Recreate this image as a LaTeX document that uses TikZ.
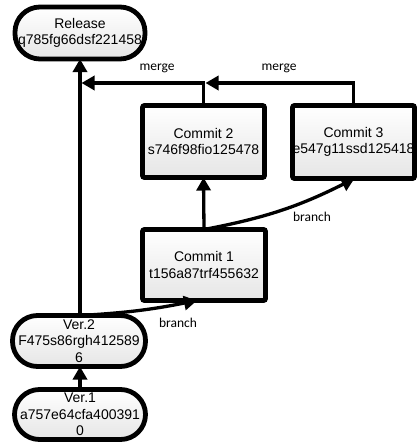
\documentclass[tikz,border=0pt]{standalone}
\usepackage{fontspec}
\setmainfont{Liberation Sans}
\newfontfamily\lblfont{Carlito}
\usetikzlibrary{arrows.meta,shadows}

\begin{document}
\begin{tikzpicture}[x=1pt,y=-1pt,
  every node/.style={inner sep=0pt, outer sep=0pt},
  card/.style={draw=black, line width=4.8pt, top color=white, bottom color=black!10,
    align=center, font=\fontsize{14}{16.5}\selectfont,
    drop shadow={shadow xshift=1.5pt, shadow yshift=-1.5pt, fill=black!35, opacity=0.5}},
  commitbox/.style={card, rounded corners=2pt, minimum width=122pt, minimum height=72pt},
  pill/.style={card, rounded corners=25pt, minimum width=131pt, minimum height=51pt},
  link/.style={line width=3.3pt, -{Triangle[length=13pt,width=14pt]}},
  tag/.style={font=\lblfont\fontsize{13.5}{15}\selectfont}
]
\useasboundingbox (0,0) rectangle (418,444);

% version nodes on the main line
\node[pill, minimum width=130pt, minimum height=52pt] (rel) at (80,33) {Release\\q785fg66dsf221458};
\node[pill, minimum width=133pt] (v2) at (79,341) {Ver.2\\F475s86rgh412589\\6};
\node[pill, minimum height=50pt] (v1) at (80,414.5) {Ver.1\\a757e64cfa400391\\0};

% commits on the side branches
\node[commitbox] (c2) at (203.5,141.5) {Commit 2\\s746f98fio125478};
\node[commitbox, minimum height=73pt] (c3) at (353.5,142) {Commit 3\\e547g11ssd125418};
\node[commitbox, minimum width=123pt, minimum height=71pt] (c1) at (204,265) {Commit 1\\t156a87trf455632};

% junctions where the merges meet
\coordinate (j1) at (81.5,83);
\coordinate (j2) at (205.5,83);

% main line
\draw[link] (v1.north -| rel.south) -- (v2.south -| rel.south);
\draw[link] (v2.north -| rel.south) -- (rel.south);

% branches
\draw[link] (v2.north -| rel.south) to[bend right=4] ([xshift=-7pt]c1.south);
\draw[link] (c1.north) -- (c2.south);
\draw[link] (c1.north) to[bend right=8] ([xshift=1pt]c3.south);

% merges
\draw[link] (c2.north) |- (j1);
\draw[link] (c3.north) |- (j2);

% labels
\node[tag] at (157,68) {merge};
\node[tag] at (279,68) {merge};
\node[tag] at (312,217) {branch};
\node[tag] at (178,323) {branch};
\end{tikzpicture}
\end{document}
